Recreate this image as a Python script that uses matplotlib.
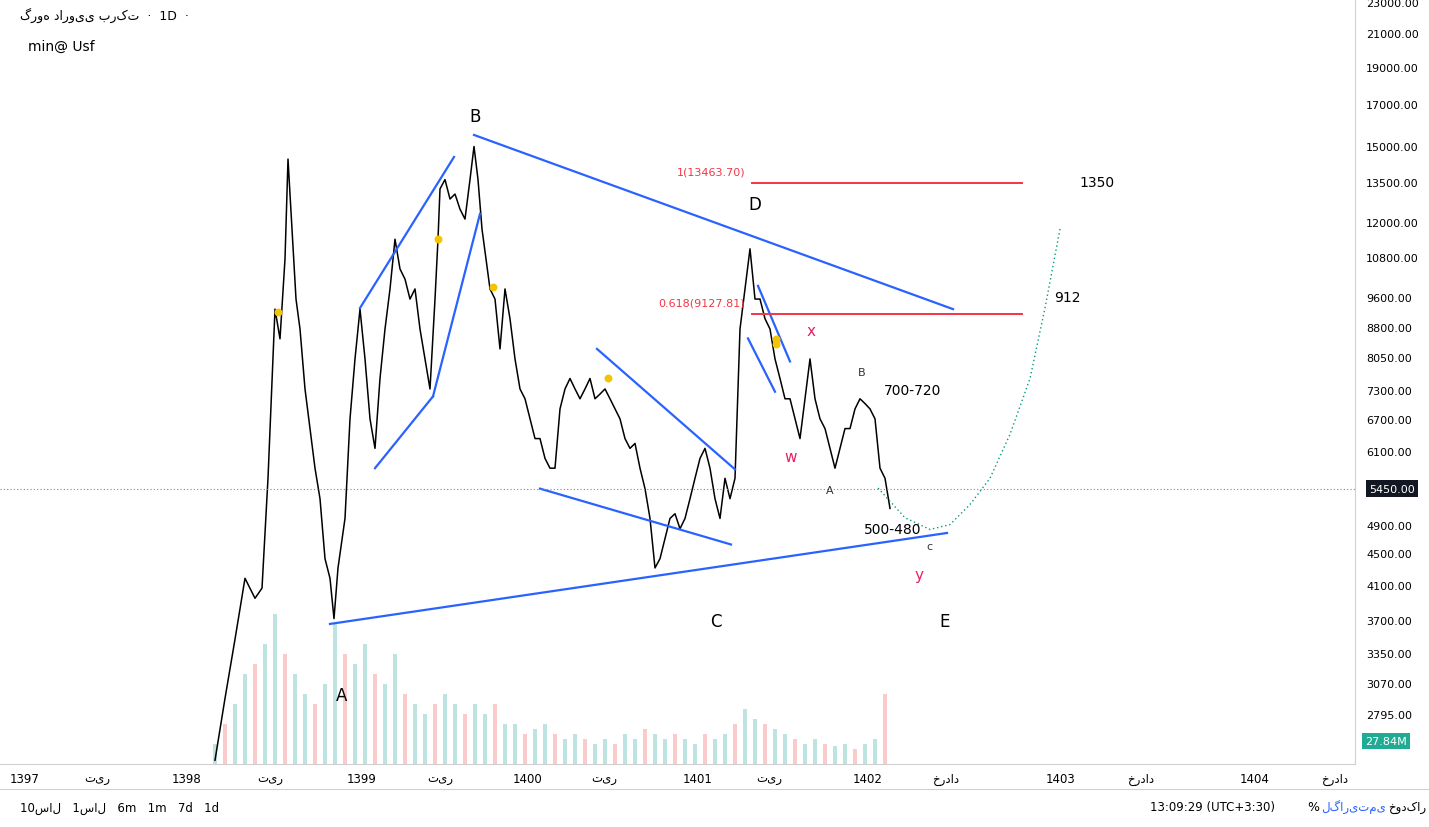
import numpy as np
import matplotlib
matplotlib.use("Agg")
import matplotlib.pyplot as plt
from matplotlib.ticker import FixedLocator, NullLocator

plt.rcParams['font.family'] = ['DejaVu Sans', 'Noto Sans']

# ---- price path (bar position, close) ----
bar_x = [215,225,235,245,255,262,268,275,280,285,288,292,296,300,305,310,315,320,325,330,334,338,345,350,355,360,365,370,375,380,385,390,395,400,405,410,415,420,425,430,435,438,440,445,450,455,460,465,470,474,478,482,486,490,495,500,505,510,515,520,525,530,535,540,545,550,555,560,565,570,575,580,585,590,595,600,605,610,615,620,625,630,635,640,645,650,655,660,665,670,675,680,685,690,695,700,705,710,715,720,725,730,735,740,745,750,755,760,765,770,775,780,785,790,795,800,805,810,815,820,825,830,835,840,845,850,855,860,865,870,875,880,885,890]
close = [2440,2930,3490,4180,3940,4060,5620,9270,8490,10750,14450,11750,9550,8740,7320,6510,5790,5290,4430,4180,3710,4310,4990,6700,8000,9270,8000,6700,6140,7550,8740,9840,11400,10440,10130,9550,9840,8740,8000,7320,9550,11400,13230,13600,12840,13030,12460,12100,13600,15000,13600,11750,10750,9840,9550,8240,9840,9010,8000,7320,7110,6700,6320,6320,5960,5790,5790,6900,7320,7550,7320,7110,7320,7550,7110,7210,7320,7110,6900,6700,6320,6140,6230,5790,5450,4990,4310,4430,4700,4990,5060,4840,4990,5290,5620,5960,6140,5790,5290,4990,5620,5290,5620,8740,9840,11080,9550,9550,9010,8740,8000,7550,7110,7110,6700,6320,7110,8000,7110,6700,6510,6140,5790,6140,6510,6510,6900,7110,7010,6900,6700,5790,5620,5140]

vol_x = list(range(215, 886, 10))
volume = [20,40,60,90,100,120,150,110,90,70,60,80,140,110,100,120,90,80,110,70,60,50,60,70,60,50,60,50,60,40,40,30,35,40,30,25,30,25,20,25,20,30,25,35,30,25,30,25,20,30,25,30,40,55,45,40,35,30,25,20,25,20,18,20,15,20,25,70]

price_ticks = [23000,21000,19000,17000,15000,13500,12000,10800,9600,8800,8050,7300,6700,6100,4900,4500,4100,3700,3350,3070,2795]
time_ticks = [25,97,187,270,362,440,528,604,698,769,868,946,1061,1141,1255,1335]
time_labels = ['1397','تیر','1398','تیر','1399','تیر','1400','تیر','1401','تیر','1402','خرداد','1403','خرداد','1404','خرداد']

# trendlines: (x0, p0, x1, p1)
blue_lines = [(330,3652,947,4780),(474,15520,953,9270),(360,9300,454,14540),(375,5790,433,7160),
              (433,7160,480,12290),(597,8240,735,5770),(540,5450,731,4620),(758,9930,790,7940),(748,8500,775,7260)]
fib_levels = [(13463.70,'1(13463.70)'),(9127.81,'0.618(9127.81)')]
curve_x = [878,905,930,950,970,990,1010,1030,1045,1060]
curve_p = [5460,5000,4830,4900,5200,5620,6400,7550,9300,11750]
dots_x = [278,438,493,608,776,776]
dots_p = [9200,11400,9900,7560,8490,8350]

W, H = 1429, 828
fig = plt.figure(figsize=(W/100, H/100), dpi=100)
ax = fig.add_axes([0, 63/H, 1355/W, 765/H])
ax.set_yscale('log')
ax.set_xlim(0, 1355)
ax.set_ylim(2413, 23205)

vax = ax.twinx()
vcol = []
for i, v in enumerate(volume):
    vcol.append('#26a69a' if i % 3 != 1 else '#ef5350')
vax.bar(vol_x, volume, width=3.5, color=vcol, alpha=0.3)
vax.set_ylim(0, 765)
vax.axis('off')
ax.set_zorder(vax.get_zorder()+1)
ax.patch.set_visible(False)

ax.plot(bar_x, close, color='black', lw=1.1)
for x0, p0, x1, p1 in blue_lines:
    ax.plot([x0, x1], [p0, p1], color='#2962ff', lw=1.6)
for p, lab in fib_levels:
    ax.plot([752, 1022], [p, p], color='#f23645', lw=1.4)
    ax.text(745, p*1.02, lab, color='#f23645', fontsize=8, ha='right', va='bottom')
ax.plot(curve_x, curve_p, color='#089981', lw=1, ls=(0, (1, 2)))
ax.scatter(dots_x, dots_p, s=22, color='#f5c400', zorder=5)
ax.axhline(5450, color='#888888', lw=0.8, ls=(0, (1, 2)))

labels = [(475,16400,'B','black',12),(755,12650,'D','black',12),(716,3680,'C','black',12),
          (945,3680,'E','black',12),(342,2960,'A','black',12),(1097,13500,'1350','black',10),
          (1067,9600,'912','black',10),(913,7300,'700-720','black',10),(893,4840,'500-480','black',10),
          (811,8700,'x','#e91e63',11),(791,6000,'w','#e91e63',11),(919,4230,'y','#e91e63',11),
          (862,7700,'B','#333333',8),(830,5430,'A','#333333',8),(929,4600,'c','#333333',8)]
for x, p, t, c, fs in labels:
    ax.text(x, p, t, color=c, fontsize=fs, ha='center', va='center')

ax.yaxis.tick_right()
ax.yaxis.set_major_locator(FixedLocator(price_ticks))
ax.yaxis.set_minor_locator(NullLocator())
ax.set_yticklabels([f'{v:.2f}' for v in price_ticks], fontsize=8)
ax.tick_params(axis='y', length=0, pad=8)
ax.set_xticks(time_ticks)
ax.set_xticklabels(time_labels, fontsize=8.5)
ax.tick_params(axis='x', length=0, pad=6)
for s in ['top', 'left']:
    ax.spines[s].set_visible(False)
ax.spines['right'].set_color('#d0d0d0')
ax.spines['bottom'].set_color('#d0d0d0')

ax.text(1392, 5450, '5450.00', transform=ax.transData, fontsize=8, color='white',
        ha='center', va='center', clip_on=False,
        bbox=dict(boxstyle='square,pad=0.3', fc='#131722', ec='none'))
fig.text(1386/W, 1-742/H, '27.84M', fontsize=8, color='white', ha='center', va='center',
         bbox=dict(boxstyle='square,pad=0.3', fc='#22ab94', ec='none'))

fig.text(20/W, 1-15/H, 'گروه دارویی برکت  ·  1D  ·', fontsize=9, ha='left', va='center',
         family=['DejaVu Sans'])
fig.text(28/W, 1-47/H, 'min@ Usf', fontsize=10, ha='left', va='center')
fig.text(20/W, 1-808/H, '10سال   1سال   6m   1m   7d   1d', fontsize=8.5, ha='left', va='center')
fig.text(1275/W, 1-808/H, '13:09:29 (UTC+3:30)', fontsize=8.5, ha='right', va='center')
fig.text(1313/W, 1-808/H, '%', fontsize=9, ha='center', va='center')
fig.text(1354/W, 1-808/H, 'لگاریتمی', fontsize=8.5, ha='center', va='center', color='#2962ff')
fig.text(1426/W, 1-808/H, 'خودکار', fontsize=8.5, ha='right', va='center')
fig.add_artist(plt.Line2D([0, 1], [1-790/H, 1-790/H], color='#d0d0d0', lw=0.8))
fig.savefig('out.png', dpi=100, facecolor='white')
